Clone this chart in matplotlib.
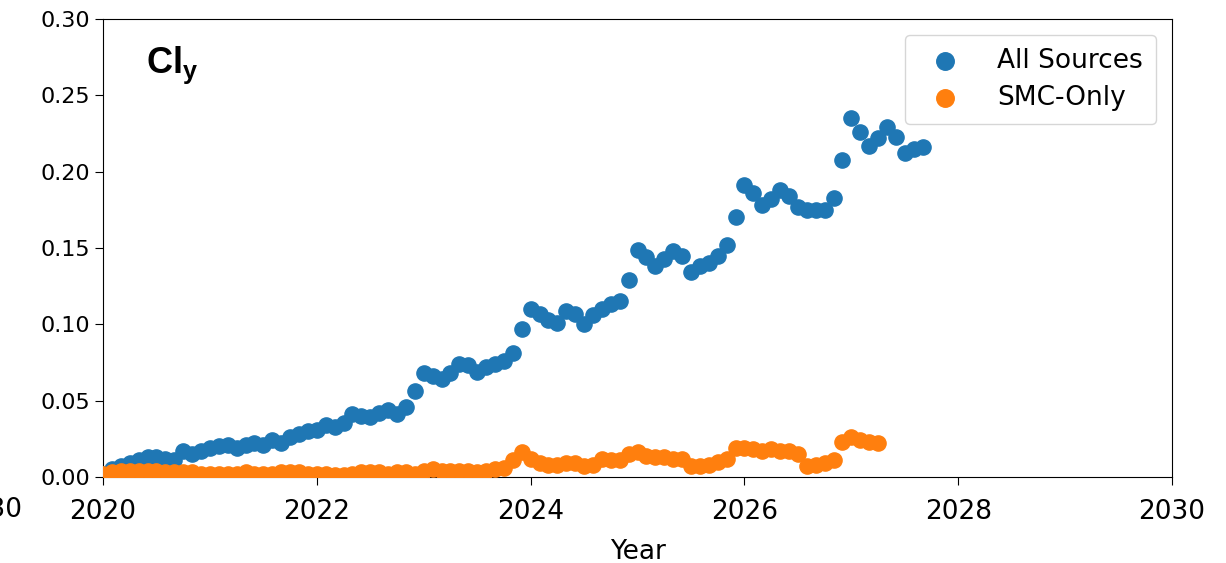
import numpy as np
import matplotlib
matplotlib.use("Agg")
import matplotlib.pyplot as plt

# monthly means starting Jan 2020
start_year = 2020
all_sources = [
    0.002, 0.005, 0.007, 0.009, 0.011, 0.013, 0.013, 0.012, 0.011, 0.017, 0.015, 0.017,
    0.019, 0.020, 0.021, 0.019, 0.021, 0.022, 0.021, 0.024, 0.022, 0.026, 0.028, 0.030,
    0.031, 0.034, 0.033, 0.035, 0.041, 0.040, 0.039, 0.042, 0.044, 0.041, 0.046, 0.056,
    0.068, 0.066, 0.064, 0.068, 0.074, 0.073, 0.069, 0.072, 0.074, 0.076, 0.081, 0.097,
    0.110, 0.107, 0.103, 0.101, 0.109, 0.107, 0.100, 0.106, 0.110, 0.113, 0.115, 0.129,
    0.149, 0.144, 0.138, 0.143, 0.148, 0.145, 0.134, 0.138, 0.140, 0.145, 0.152, 0.170,
    0.191, 0.186, 0.178, 0.182, 0.188, 0.184, 0.177, 0.175, 0.175, 0.175, 0.183, 0.208,
    0.235, 0.226, 0.217, 0.222, 0.229, 0.223, 0.212, 0.215, 0.216,
]
smc_only = [
    0.002, 0.003, 0.004, 0.004, 0.004, 0.004, 0.004, 0.003, 0.003, 0.003, 0.003, 0.002,
    0.002, 0.002, 0.002, 0.002, 0.003, 0.002, 0.002, 0.002, 0.003, 0.003, 0.003, 0.002,
    0.002, 0.002, 0.001, 0.001, 0.002, 0.003, 0.003, 0.003, 0.002, 0.003, 0.003, 0.002,
    0.004, 0.005, 0.004, 0.004, 0.004, 0.004, 0.003, 0.004, 0.005, 0.006, 0.011, 0.016,
    0.012, 0.009, 0.008, 0.008, 0.009, 0.009, 0.007, 0.008, 0.012, 0.011, 0.011, 0.015,
    0.016, 0.014, 0.013, 0.013, 0.012, 0.012, 0.007, 0.007, 0.008, 0.010, 0.012, 0.019,
    0.019, 0.018, 0.017, 0.018, 0.017, 0.017, 0.015, 0.007, 0.008, 0.009, 0.011, 0.023,
    0.026, 0.024, 0.023, 0.022,
]
y_ticks = [0.00, 0.05, 0.10, 0.15, 0.20, 0.25, 0.30]
x_ticks = [2020, 2022, 2024, 2026, 2028, 2030]

t_all = start_year + np.arange(len(all_sources)) / 12
t_smc = start_year + np.arange(len(smc_only)) / 12

plt.rcParams['mathtext.fontset'] = 'custom'
plt.rcParams['mathtext.bf'] = 'Liberation Sans:bold'

fig = plt.figure(figsize=(12.26, 5.63), dpi=100)
ax = fig.add_axes([0.084, 0.153, 0.872, 0.813])

ax.scatter(t_all, all_sources, s=120, color='#1f77b4', label='All Sources', zorder=3)
ax.scatter(t_smc, smc_only, s=120, color='#ff7f0e', label='SMC-Only', zorder=3)

ax.set_xlim(2020, 2030)
ax.set_ylim(0, 0.30)
ax.set_xticks(x_ticks)
ax.set_yticks(y_ticks)
ax.set_yticklabels([f"{v:.2f}" for v in y_ticks])
ax.tick_params(axis='y', labelsize=16, length=6)
ax.tick_params(axis='x', labelsize=19, length=6, pad=10)
ax.set_xlabel('Year', fontsize=19, labelpad=10)

ax.legend(loc='upper right', fontsize=19, borderaxespad=0.6, handletextpad=1.0,
          markerscale=1.15, borderpad=0.5, labelspacing=0.4)

ax.text(0.04, 0.90, r'$\mathbf{Cl_y}$', transform=ax.transAxes,
        fontsize=26, va='center')

# tail of the neighbouring panel's axis label
fig.text(22 / 1226, 1 - 510 / 563, '2030', ha='right', va='center', fontsize=19)

fig.savefig('out.png', dpi=100)
